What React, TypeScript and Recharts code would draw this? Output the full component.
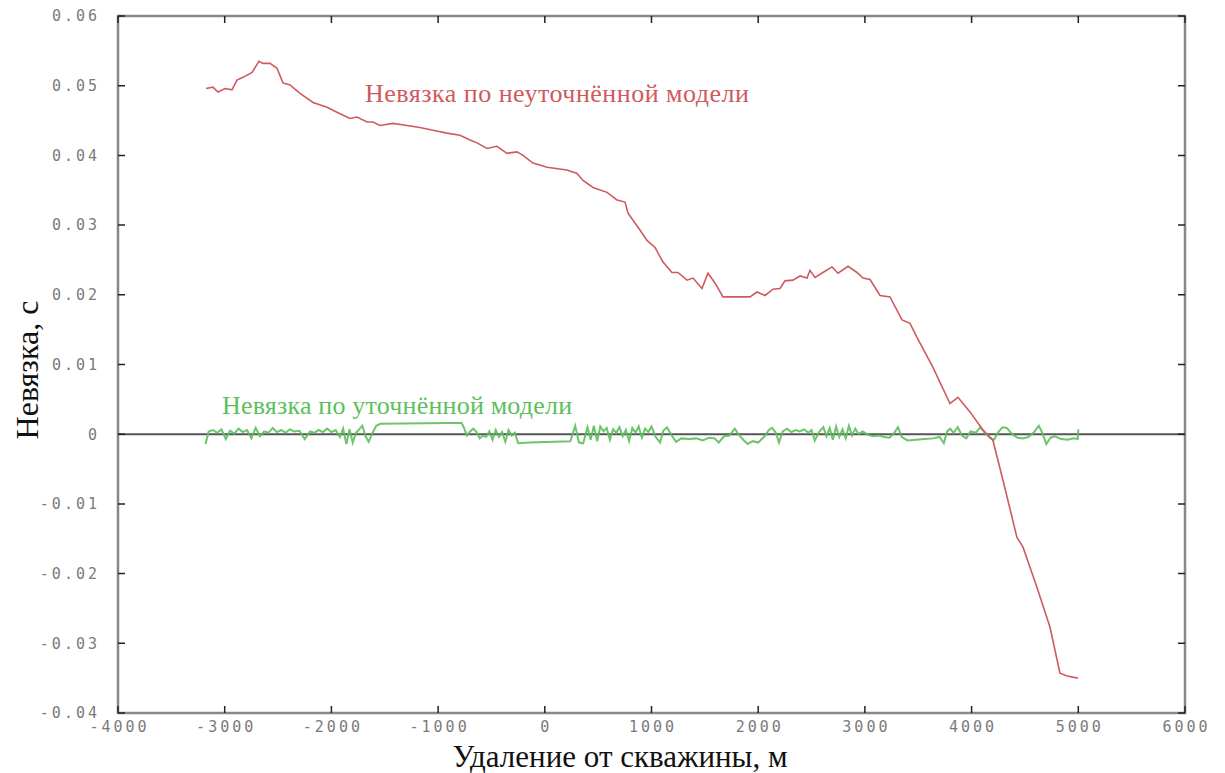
import React from "react";
import { LineChart, Line, XAxis, YAxis, ReferenceLine, ReferenceArea } from "recharts";

// distance from well, m  /  misfit, s
const RED_X = [
  -3175, -3110, -3063, -2997, -2932, -2885, -2828, -2744, -2679, -2641, -2575, -2510, -2454, -2388, -2294,
  -2172, -2041, -1948, -1826, -1760, -1666, -1610, -1544, -1423, -1291, -1170, -1048, -917, -795, -701,
  -635, -542, -448, -354, -261, -204, -111, 21, 208, 302, 358, 452, 583, 677, 752, 780, 827, 892, 958,
  1033, 1108, 1192, 1248, 1333, 1389, 1473, 1529, 1595, 1670, 1923, 1989, 2064, 2139, 2204, 2251, 2326,
  2392, 2457, 2485, 2532, 2607, 2692, 2748, 2842, 2926, 2982, 3048, 3142, 3235, 3348, 3423, 3488, 3638,
  3797, 3872, 3985, 4107, 4200, 4294, 4425, 4482, 4613, 4735, 4828, 4894, 4997,
];
const RED_Y = [
  0.0496, 0.0498, 0.0491, 0.0496, 0.0494, 0.0508, 0.0512, 0.0519, 0.0535, 0.0532, 0.0532, 0.0525, 0.0504,
  0.0501, 0.0489, 0.0476, 0.0469, 0.0462, 0.0453, 0.0455, 0.0448, 0.0448, 0.0443, 0.0446, 0.0443, 0.044,
  0.0436, 0.0432, 0.0429, 0.0422, 0.0418, 0.041, 0.0413, 0.0403, 0.0405, 0.04, 0.0389, 0.0383, 0.0379,
  0.0374, 0.0364, 0.0354, 0.0347, 0.0336, 0.0333, 0.0317, 0.0307, 0.0293, 0.0278, 0.0268, 0.0247, 0.0232,
  0.0232, 0.0221, 0.0224, 0.0209, 0.0231, 0.0217, 0.0197, 0.0197, 0.0204, 0.0199, 0.0208, 0.0209, 0.022,
  0.0221, 0.0227, 0.0224, 0.0235, 0.0225, 0.0232, 0.024, 0.0231, 0.0241, 0.0232, 0.0224, 0.0222, 0.0199,
  0.0197, 0.0164, 0.0159, 0.0139, 0.0096, 0.0044, 0.0053, 0.0032, 0.0006, -0.0009, -0.0066, -0.0148,
  -0.0162, -0.022, -0.0277, -0.0343, -0.0347, -0.035,
];

const GREEN_X = [
  -3180, -3150, -3110, -3070, -3030, -2990, -2950, -2910, -2870, -2830, -2790, -2750, -2710, -2670, -2630,
  -2590, -2550, -2510, -2470, -2430, -2390, -2350, -2300, -2250, -2200, -2160, -2120, -2080, -2040, -2000,
  -1960, -1920, -1890, -1860, -1830, -1800, -1770, -1740, -1710, -1680, -1650, -1620, -1580, -1540, -900,
  -780, -760, -730, -700, -670, -640, -610, -580, -550, -520, -490, -460, -430, -400, -370, -340, -310,
  -280, -250, -140, 240, 285, 320, 360, 400, 430, 460, 490, 520, 550, 580, 610, 640, 670, 700, 730, 760,
  790, 820, 850, 880, 910, 940, 970, 1000, 1040, 1080, 1110, 1145, 1190, 1230, 1280, 1350, 1420, 1480,
  1540, 1590, 1630, 1680, 1730, 1780, 1820, 1860, 1900, 1950, 2000, 2060, 2100, 2130, 2165, 2195, 2230,
  2270, 2310, 2350, 2390, 2430, 2470, 2500, 2530, 2570, 2610, 2640, 2670, 2700, 2730, 2760, 2790, 2820,
  2850, 2880, 2910, 2940, 2980, 3030, 3080, 3130, 3180, 3230, 3270, 3310, 3345, 3400, 3480, 3560, 3640,
  3700, 3740, 3770, 3800, 3830, 3870, 3910, 3950, 3990, 4040, 4080, 4120, 4170, 4210, 4250, 4290, 4330,
  4380, 4430, 4480, 4530, 4580, 4630, 4660, 4700, 4740, 4780, 4840, 4900, 4960, 4995, 5000,
];
const GREEN_Y = [
  -0.0014, 0.0004, 0.0006, 0.0002, 0.0007, -0.0007, 0.0005, 0.0001, 0.0008, 0.0003, 0.0006, -0.0006,
  0.0009, -0.0003, 0.0004, 0.0002, 0.0009, 0.0003, 0.0006, 0.0002, 0.0007, 0.0004, 0.0005, -0.0007,
  0.0004, 0.0002, 0.0006, 0.0003, 0.0008, 0.0003, 0.0006, -0.0004, 0.0008, -0.0014, 0.0007, -0.0012,
  0.0002, 0.0007, 0.0012, -0.0003, -0.0011, 0.0, 0.0012, 0.0015, 0.0016, 0.0016, 0.001, -0.0002, 0.0004,
  0.0008, 0.0003, -0.0006, -0.0002, -0.0004, 0.0004, -0.0008, 0.0006, -0.0004, 0.0003, -0.0011, 0.0006,
  -0.0002, 0.0002, -0.0013, -0.0012, -0.001, 0.0012, -0.0012, -0.0013, 0.001, -0.0008, 0.0012, -0.001,
  0.0011, 0.0004, 0.0009, -0.0008, 0.0007, 0.0002, 0.001, -0.0003, 0.0006, -0.001, 0.0009, 0.0002,
  0.0011, -0.0005, 0.0008, 0.0003, 0.0011, -0.0004, -0.0012, 0.0005, 0.001, -0.0002, -0.0011, -0.0006,
  -0.0007, -0.0006, -0.0009, -0.0005, -0.0006, -0.0012, -0.0003, -0.0002, 0.0008, -0.0001, -0.0008,
  -0.0014, -0.001, -0.0012, -0.0003, 0.0006, 0.0009, 0.0002, -0.0012, 0.0004, 0.0008, 0.0003, 0.0006,
  0.0004, 0.0007, 0.0002, 0.0006, -0.0009, 0.0003, 0.001, -0.0003, 0.0009, -0.0008, 0.0011, -0.0004,
  0.0007, -0.0006, 0.0012, -0.0002, 0.0008, 0.0, 0.0004, -0.0001, -0.0003, -0.0002, -0.0004, -0.0005,
  0.0001, 0.001, -0.0004, -0.0009, -0.0008, -0.0007, -0.0006, -0.0004, -0.0013, 0.0004, 0.0008, 0.0002,
  0.001, -0.0002, -0.0006, 0.0004, 0.0002, 0.001, 0.0003, -0.0005, -0.0008, 0.0003, 0.001, 0.0009, 0.0,
  -0.0005, -0.0006, -0.0004, 0.0002, 0.0012, 0.0003, -0.0014, -0.0005, -0.0003, -0.0007, -0.0008,
  -0.0006, -0.0007, 0.0007,
];

const X_TICKS = [-4000, -3000, -2000, -1000, 0, 1000, 2000, 3000, 4000, 5000, 6000];
const Y_TICKS = [-0.04, -0.03, -0.02, -0.01, 0, 0.01, 0.02, 0.03, 0.04, 0.05, 0.06];

const redData = RED_X.map((x, i) => ({ x, y: RED_Y[i] }));
const greenData = GREEN_X.map((x, i) => ({ x, y: GREEN_Y[i] }));

const W = 1225;
const H = 773;
const M = { top: 16, right: 40, bottom: 0, left: 0 };
const Y_AXIS_W = 118;
const X_AXIS_H = 60;
const PLOT_W = W - M.right - Y_AXIS_W;
const PLOT_H = H - M.top - X_AXIS_H;
const X_GAP = 8;
const Y_GAP = 18;
const TICK = 7;

const frame = "#888";
const tickText = {
  fill: "#7a7a7a",
  fontSize: 15,
  fontFamily: "DejaVu Sans Mono",
  letterSpacing: 3,
};
const fmtY = (v: number) => (v === 0 ? "0" : v.toFixed(2));

// inward ticks on bottom + mirrored on top
function XTick(props: any) {
  const { x, y, payload } = props;
  const axisY = y - X_GAP;
  return (
    <g>
      <path d={`M${x},${axisY}v${-TICK}M${x},${axisY - PLOT_H}v${TICK}`} stroke="#222" strokeWidth={1.5} fill="none" />
      <text x={x + 1.5} y={y} dy="0.71em" textAnchor="middle" {...tickText}>
        {payload.value}
      </text>
    </g>
  );
}

// inward ticks on left + mirrored on right
function YTick(props: any) {
  const { x, y, payload } = props;
  const axisX = x + Y_GAP;
  return (
    <g>
      <path d={`M${axisX},${y}h${TICK}M${axisX + PLOT_W},${y}h${-TICK}`} stroke="#222" strokeWidth={1.5} fill="none" />
      <text x={x} y={y} dy="0.355em" textAnchor="end" {...tickText}>
        {fmtY(payload.value)}
      </text>
    </g>
  );
}

export default function App() {
  return (
    <div style={{ position: "absolute", left: 0, top: 0, width: W, height: H, background: "#fff" }}>
      <LineChart width={W} height={H} margin={M}>
        <XAxis
          type="number"
          dataKey="x"
          domain={[-4000, 6000]}
          ticks={X_TICKS}
          height={X_AXIS_H}
          allowDataOverflow
          axisLine={false}
          tickLine={false}
          tickSize={0}
          tickMargin={X_GAP}
          tick={<XTick />}
          interval={0}
        />
        <YAxis
          type="number"
          domain={[-0.04, 0.06]}
          ticks={Y_TICKS}
          width={Y_AXIS_W}
          allowDataOverflow
          axisLine={false}
          tickLine={false}
          tickSize={0}
          tickMargin={Y_GAP}
          tick={<YTick />}
          interval={0}
        />
        <ReferenceArea
          x1={-4000}
          x2={6000}
          y1={-0.04}
          y2={0.06}
          ifOverflow="visible"
          fill="none"
          fillOpacity={0}
          stroke={frame}
          strokeWidth={2.5}
          strokeOpacity={1}
        />
        <ReferenceLine y={0} stroke="#555" strokeWidth={2} />
        <Line
          data={greenData}
          dataKey="y"
          type="linear"
          stroke="#5cbf5c"
          strokeWidth={2}
          strokeOpacity={0.9}
          dot={false}
          isAnimationActive={false}
        />
        <Line
          data={redData}
          dataKey="y"
          type="linear"
          stroke="#cf5a5e"
          strokeWidth={1.6}
          dot={false}
          isAnimationActive={false}
        />
      </LineChart>

      <div
        style={{
          position: "absolute",
          left: 365,
          top: 79,
          color: "#d0595d",
          fontFamily: "Liberation Serif",
          fontSize: 26,
          letterSpacing: 0.5,
          whiteSpace: "nowrap",
        }}
      >
        Невязка по неуточнённой модели
      </div>
      <div
        style={{
          position: "absolute",
          left: 222,
          top: 391,
          color: "#5cbf5c",
          fontFamily: "Liberation Serif",
          fontSize: 26,
          letterSpacing: 0.2,
          whiteSpace: "nowrap",
        }}
      >
        Невязка по уточнённой модели
      </div>
      <div
        style={{
          position: "absolute",
          left: 620,
          top: 742,
          lineHeight: "30px",
          transform: "translateX(-50%)",
          fontFamily: "Liberation Serif",
          fontSize: 31,
          color: "#111",
          whiteSpace: "nowrap",
        }}
      >
        Удаление от скважины, м
      </div>
      <div
        style={{
          position: "absolute",
          left: 27,
          top: 370,
          transform: "translate(-50%, -50%) rotate(-90deg)",
          fontFamily: "Liberation Serif",
          fontSize: 32,
          color: "#111",
          whiteSpace: "nowrap",
        }}
      >
        Невязка, с
      </div>
    </div>
  );
}
